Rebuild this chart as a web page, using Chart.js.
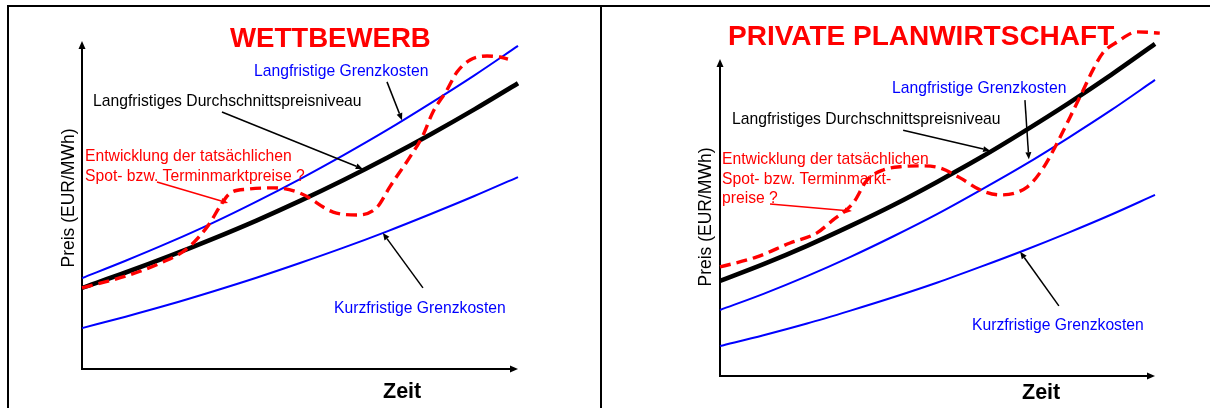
<!DOCTYPE html>
<html>
<head>
<meta charset="utf-8">
<title>Wettbewerb vs. private Planwirtschaft</title>
<script src="https://cdn.jsdelivr.net/npm/chart.js@4/dist/chart.umd.min.js"></script>
<style>
  html, body { margin: 0; padding: 0; background: #fff; }
  #wrap { position: relative; width: 1210px; height: 408px; overflow: hidden; }
  #wrap canvas { position: absolute; top: 0; }
  #wb { left: 0; }
  #pp { left: 602px; }
  .rule { position: absolute; background: #000; }
</style>
</head>
<body>
<div id="wrap">
  <canvas id="wb" width="600" height="408"></canvas>
  <canvas id="pp" width="608" height="408"></canvas>
  <div class="rule" style="left:7px;top:5px;width:1203px;height:2px"></div>
  <div class="rule" style="left:7px;top:5px;width:2px;height:403px"></div>
  <div class="rule" style="left:600px;top:5px;width:2px;height:403px"></div>
</div>
<script>
// Zeitachse (0 = heute, 100 = Ende des Betrachtungszeitraums), Preise als Index
const zeit = [0, 10, 20, 30, 40, 50, 60, 70, 80, 90, 100];

// Wettbewerb
const wbLangfristigeGrenzkosten  = [27.8, 33.1, 38.7, 44.7, 51.2, 58.1, 65.4, 73.1, 81.3, 89.8, 98.8];
const wbDurchschnittspreis       = [24.8, 29.5, 34.5, 39.8, 45.4, 51.4, 57.8, 64.6, 71.8, 79.4, 87.4];
const wbKurzfristigeGrenzkosten  = [12.5, 16.0, 19.7, 23.7, 27.9, 32.4, 37.1, 42.1, 47.4, 52.9, 58.7];
const wbMarktZeit  = [0, 10, 18, 24, 29, 32, 34, 38, 44, 50, 57.6, 63.1, 67.7, 70.6, 75.2, 78, 80.5, 83.7, 86, 89, 92.9, 95.9, 97.7];
const wbMarktpreis = [24.8, 28.4, 32.4, 36.7, 44.0, 50.5, 53.8, 55.0, 55.4, 53.8, 48.0, 47.1, 49.5, 55.7, 64.8, 70.9, 78.6, 85.3, 90.8, 94.5, 95.7, 95.4, 94.8];

// Private Planwirtschaft
const ppLangfristigeGrenzkosten  = [20.9, 26.0, 31.6, 37.7, 44.3, 51.3, 58.9, 66.8, 75.3, 84.2, 93.7];
const ppDurchschnittspreis       = [30.1, 35.4, 41.2, 47.5, 54.2, 61.5, 69.2, 77.5, 86.2, 95.4, 105.1];
const ppKurzfristigeGrenzkosten  = [9.5, 12.9, 16.6, 20.7, 25.0, 29.6, 34.6, 39.8, 45.3, 51.1, 57.3];
const ppMarktZeit  = [0, 8.5, 16.1, 22.3, 26.0, 30.6, 33.8, 37.5, 42.1, 46.7, 50.6, 55.2, 59.8, 64.4, 70.6, 74.3, 77.5, 80.5, 83.2, 85.7, 88.0, 91.3, 95.9, 101.1];
const ppMarktpreis = [34.5, 37.7, 42.1, 45.3, 49.4, 54.7, 62.0, 65.2, 66.3, 66.5, 65.8, 62.7, 58.9, 57.3, 59.8, 65.8, 73.7, 82.0, 89.6, 96.8, 102.2, 105.7, 108.9, 108.5];

const FONT = '"Liberation Sans", Arial, Helvetica, sans-serif';
const BLUE = '#0000ff';
const RED = '#ff0000';

function punkte(xs, ys) { return xs.map((x, i) => ({ x: x, y: ys[i] })); }

function kurven(lang, mittel, kurz, marktZeit, markt) {
  const basis = { pointRadius: 0, fill: false, clip: false, cubicInterpolationMode: 'monotone' };
  return [
    Object.assign({}, basis, { label: 'Marktpreise', data: punkte(marktZeit, markt),
      borderColor: RED, borderWidth: 3.4, borderDash: [11, 6], order: 0 }),
    Object.assign({}, basis, { label: 'Durchschnittspreisniveau', data: punkte(zeit, mittel),
      borderColor: '#000', borderWidth: 4.6, order: 1 }),
    Object.assign({}, basis, { label: 'Langfristige Grenzkosten', data: punkte(zeit, lang),
      borderColor: BLUE, borderWidth: 2, order: 2 }),
    Object.assign({}, basis, { label: 'Kurzfristige Grenzkosten', data: punkte(zeit, kurz),
      borderColor: BLUE, borderWidth: 2, order: 2 })
  ];
}

function pfeil(ctx, x1, y1, x2, y2, farbe, breite, kopfL, kopfB) {
  const w = Math.atan2(y2 - y1, x2 - x1);
  const bx = x2 - kopfL * Math.cos(w), by = y2 - kopfL * Math.sin(w);
  ctx.save();
  ctx.strokeStyle = farbe; ctx.fillStyle = farbe; ctx.lineWidth = breite;
  ctx.beginPath(); ctx.moveTo(x1, y1); ctx.lineTo(bx, by); ctx.stroke();
  ctx.beginPath();
  ctx.moveTo(x2, y2);
  ctx.lineTo(bx + kopfB * Math.sin(w), by - kopfB * Math.cos(w));
  ctx.lineTo(bx - kopfB * Math.sin(w), by + kopfB * Math.cos(w));
  ctx.closePath(); ctx.fill();
  ctx.restore();
}

// Achsen mit Pfeilspitzen unter den Kurven, Beschriftungen darüber
const skizze = {
  id: 'skizze',
  beforeDatasetsDraw(chart) {
    const { ctx, chartArea: a } = chart;
    pfeil(ctx, a.left, a.bottom + 1, a.left, a.top - 1, '#000', 2, 8, 3.5);
    pfeil(ctx, a.left - 1, a.bottom, a.right, a.bottom, '#000', 2, 8, 3.5);
  },
  afterDatasetsDraw(chart, args, opts) {
    const { ctx } = chart;
    const sx = chart.scales.x, sy = chart.scales.y;
    opts.pfeile.forEach(p => {
      pfeil(ctx, sx.getPixelForValue(p.von[0]), sy.getPixelForValue(p.von[1]),
                 sx.getPixelForValue(p.nach[0]), sy.getPixelForValue(p.nach[1]),
                 p.farbe, 1.5, 7, 3);
    });
    opts.texte.forEach(t => {
      ctx.save();
      ctx.font = (t.fett ? 'bold ' : '') + t.groesse + 'px ' + FONT;
      ctx.fillStyle = t.farbe;
      ctx.textBaseline = 'alphabetic';
      if (t.drehen) {
        ctx.translate(t.x, t.y);
        ctx.rotate(-Math.PI / 2);
        ctx.textAlign = 'center';
        ctx.fillText(t.text, 0, 0);
      } else {
        ctx.textAlign = 'left';
        ctx.fillText(t.text, t.x, t.y);
      }
      ctx.restore();
    });
  }
};

function panel(id, padding, datasets, texte, pfeile) {
  return new Chart(document.getElementById(id), {
    type: 'line',
    data: { datasets: datasets },
    options: {
      responsive: false,
      animation: false,
      devicePixelRatio: 1,
      events: [],
      layout: { padding: padding },
      scales: {
        x: { type: 'linear', min: 0, max: 100, display: false },
        y: { type: 'linear', min: 0, max: 100, display: false }
      },
      plugins: {
        legend: { display: false },
        tooltip: { enabled: false },
        skizze: { texte: texte, pfeile: pfeile }
      }
    },
    plugins: [skizze]
  });
}

panel('wb', { left: 82, right: 82, top: 42, bottom: 39 },
  kurven(wbLangfristigeGrenzkosten, wbDurchschnittspreis, wbKurzfristigeGrenzkosten, wbMarktZeit, wbMarktpreis),
  [
    { text: 'WETTBEWERB', x: 230, y: 47, groesse: 27.6, fett: true, farbe: RED },
    { text: 'Langfristige Grenzkosten', x: 254, y: 76, groesse: 15.7, farbe: BLUE },
    { text: 'Langfristiges Durchschnittspreisniveau', x: 93, y: 106, groesse: 15.7, farbe: '#000' },
    { text: 'Entwicklung der tatsächlichen', x: 85, y: 161, groesse: 15.7, farbe: RED },
    { text: 'Spot- bzw. Terminmarktpreise ?', x: 85, y: 181, groesse: 15.7, farbe: RED },
    { text: 'Kurzfristige Grenzkosten', x: 334, y: 313, groesse: 15.7, farbe: BLUE },
    { text: 'Zeit', x: 383, y: 398, groesse: 21.5, fett: true, farbe: '#000' },
    { text: 'Preis (EUR/MWh)', x: 74, y: 198, groesse: 17.5, farbe: '#000', drehen: true }
  ],
  [
    { von: [69.95, 87.8], nach: [73.4, 76.1], farbe: '#000' },
    { von: [32.1, 78.6], nach: [64.4, 61.2], farbe: '#000' },
    { von: [17.2, 57.2], nach: [33.5, 50.8], farbe: RED },
    { von: [78.2, 24.8], nach: [69.0, 41.6], farbe: '#000' }
  ]);

panel('pp', { left: 118, right: 55, top: 60, bottom: 32 },
  kurven(ppLangfristigeGrenzkosten, ppDurchschnittspreis, ppKurzfristigeGrenzkosten, ppMarktZeit, ppMarktpreis),
  [
    { text: 'PRIVATE PLANWIRTSCHAFT', x: 126, y: 45, groesse: 28, fett: true, farbe: RED },
    { text: 'Langfristige Grenzkosten', x: 290, y: 93, groesse: 15.7, farbe: BLUE },
    { text: 'Langfristiges Durchschnittspreisniveau', x: 130, y: 124, groesse: 15.7, farbe: '#000' },
    { text: 'Entwicklung der tatsächlichen', x: 120, y: 164, groesse: 15.7, farbe: RED },
    { text: 'Spot- bzw. Terminmarkt-', x: 120, y: 184, groesse: 15.7, farbe: RED },
    { text: 'preise ?', x: 120, y: 203, groesse: 15.7, farbe: RED },
    { text: 'Kurzfristige Grenzkosten', x: 370, y: 330, groesse: 15.7, farbe: BLUE },
    { text: 'Zeit', x: 420, y: 399, groesse: 21.5, fett: true, farbe: '#000' },
    { text: 'Preis (EUR/MWh)', x: 109, y: 217, groesse: 17.5, farbe: '#000', drehen: true }
  ],
  [
    { von: [70.1, 87.3], nach: [71.0, 68.6], farbe: '#000' },
    { von: [42.1, 77.8], nach: [62.1, 71.3], farbe: '#000' },
    { von: [11.5, 54.4], nach: [30.3, 52.2], farbe: RED },
    { von: [77.9, 22.2], nach: [69.0, 39.3], farbe: '#000' }
  ]);
</script>
</body>
</html>
